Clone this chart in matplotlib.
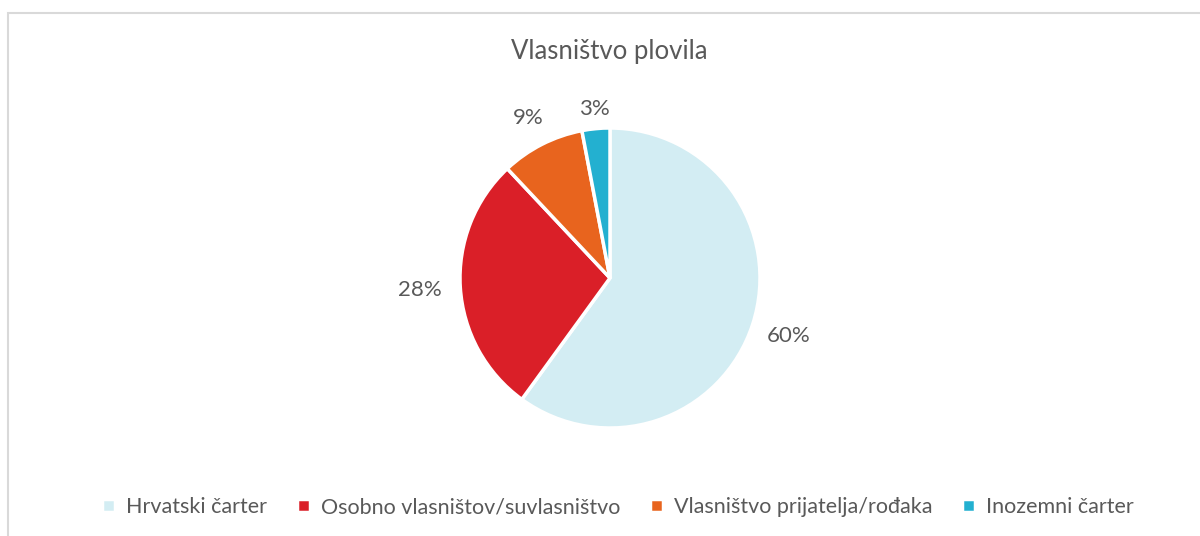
import numpy as np
import matplotlib.pyplot as plt
from matplotlib.patches import Rectangle

plt.rcParams['font.family'] = ['Lato', 'DejaVu Sans']

labels = ['Hrvatski čarter', 'Osobno vlasništov/suvlasništvo',
          'Vlasništvo prijatelja/rođaka', 'Inozemni čarter']
shares = [60, 28, 9, 3]
colors = ['#D3EDF3', '#DA1F28', '#E8641E', '#23B0D0']
title = 'Vlasništvo plovila'
text_col = '#595959'


def main():
    fig = plt.figure(figsize=(12, 5.36), dpi=100)
    # chart frame
    fig.patches.append(Rectangle((8 / 1200, -0.05), 1.1, 1 - 13 / 536 + 0.05,
                                 transform=fig.transFigure, fill=False,
                                 edgecolor='#D9D9D9', linewidth=1.5))

    r = 150 / 536
    cx, cy = 610 / 1200, 1 - 278 / 536
    ax = fig.add_axes([cx - r * 536 / 1200, cy - r, 2 * r * 536 / 1200, 2 * r])
    wedges, _, pcts = ax.pie(shares, colors=colors, startangle=90,
                             counterclock=False, autopct='%d%%',
                             pctdistance=1.25,
                             wedgeprops=dict(edgecolor='white', linewidth=2.5))
    # label distance per slice, like the outside-end labels of the original
    dists = [1.25, 1.27, 1.2, 1.13]
    for t, w, d in zip(pcts, wedges, dists):
        ang = np.deg2rad((w.theta1 + w.theta2) / 2)
        t.set_position((d * np.cos(ang), d * np.sin(ang)))
        t.set_color(text_col)
        t.set_fontsize(16)
    ax.set_xlim(-1, 1)
    ax.set_ylim(-1, 1)
    ax.set_aspect('equal')

    fig.text(0.508, 1 - 52 / 536, title, ha='center', va='center',
             fontsize=18.5, color=text_col)

    fig.legend(wedges, labels, loc='center', bbox_to_anchor=(0.515, 1 - 507 / 536),
               ncol=4, frameon=False, fontsize=15.5, handlelength=0.6,
               handleheight=0.6, handletextpad=0.5, columnspacing=1.4,
               labelcolor=text_col)

    fig.savefig('out.png', dpi=100)


if __name__ == "__main__":
    main()
